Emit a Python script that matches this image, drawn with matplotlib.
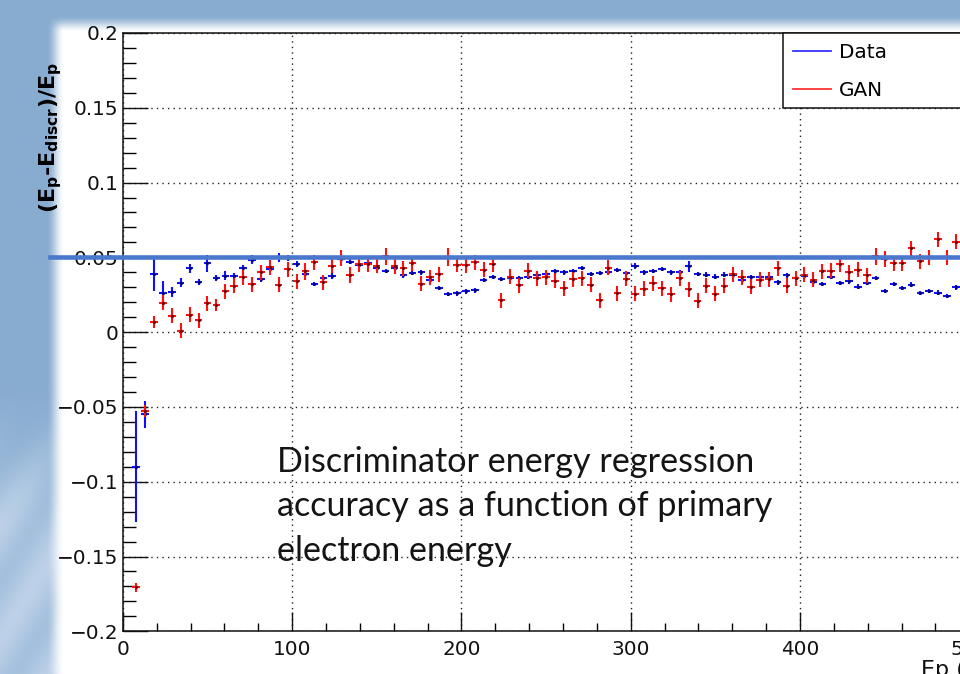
import numpy as np
import matplotlib
matplotlib.use('Agg')
import matplotlib.pyplot as plt
from matplotlib.lines import Line2D
from matplotlib.patches import Rectangle
import matplotlib.transforms as mtransforms
from matplotlib.ticker import MultipleLocator

# ---------------- data ----------------
N_BINS = 95
E_MAX = 500.0
bin_index = list(range(1, 94))

data_values = [
    -0.090, -0.055, 0.0388, 0.026, 0.027, 0.033, 0.0428, 0.0334, 0.046, 0.036,
    0.0377, 0.0377, 0.0428, 0.0484, 0.0357, 0.0421, 0.050, 0.0495, 0.0455, 0.039,
    0.0323, 0.0361, 0.0377, 0.0488, 0.0472, 0.045, 0.046, 0.0432, 0.041, 0.0432,
    0.0379, 0.0395, 0.040, 0.0346, 0.0294, 0.0256, 0.026, 0.0272, 0.0279, 0.035,
    0.0368, 0.0354, 0.036, 0.036, 0.0368, 0.0384, 0.039, 0.0406, 0.040, 0.0406,
    0.0428, 0.039, 0.0395, 0.040, 0.0417, 0.0395, 0.0444, 0.040, 0.041, 0.0421,
    0.040, 0.040, 0.0439, 0.039, 0.0384, 0.0372, 0.0384, 0.038, 0.035, 0.0366,
    0.0368, 0.0372, 0.0332, 0.0379, 0.0361, 0.0377, 0.0332, 0.0321, 0.0372, 0.0328,
    0.0339, 0.0305, 0.0328, 0.0361, 0.0276, 0.0321, 0.0294, 0.0317, 0.0261, 0.0276,
    0.0265, 0.0243, 0.0299]

data_errors = [
    0.037, 0.009, 0.011, 0.0085, 0.0035, 0.003, 0.003, 0.002, 0.0055, 0.002,
    0.003, 0.002, 0.002, 0.003, 0.002, 0.002, 0.003, 0.002, 0.002, 0.002,
    0.0015, 0.0015, 0.002, 0.002, 0.0015, 0.0015, 0.0015, 0.0015, 0.0015, 0.0015,
    0.0015, 0.0015, 0.0015, 0.0015, 0.0015, 0.0015, 0.0015, 0.0015, 0.0015, 0.0015,
    0.0015, 0.0015, 0.0015, 0.0015, 0.0015, 0.0015, 0.0015, 0.0015, 0.0015, 0.0015,
    0.0015, 0.0015, 0.0015, 0.0015, 0.0015, 0.0015, 0.002, 0.0015, 0.0015, 0.0015,
    0.0015, 0.0015, 0.004, 0.0015, 0.0015, 0.0015, 0.0015, 0.0015, 0.0015, 0.0015,
    0.0015, 0.0015, 0.0015, 0.0015, 0.0015, 0.0015, 0.0015, 0.0015, 0.0015, 0.0015,
    0.0015, 0.0015, 0.0015, 0.0015, 0.0015, 0.0015, 0.0015, 0.0015, 0.0015, 0.0015,
    0.0015, 0.0015, 0.0015]

gan_values = [
    -0.1706, -0.053, 0.0067, 0.0198, 0.011, 0.001, 0.0116, 0.0078, 0.0194, 0.0183,
    0.0272, 0.031, 0.0366, 0.0321, 0.040, 0.0435, 0.0317, 0.0421, 0.0339, 0.0406,
    0.0468, 0.0332, 0.0443, 0.0495, 0.0383, 0.0455, 0.0455, 0.0443, 0.0506, 0.0439,
    0.0428, 0.0461, 0.0323, 0.0368, 0.0388, 0.0502, 0.045, 0.0446, 0.0466, 0.0417,
    0.0455, 0.0212, 0.0372, 0.0312, 0.041, 0.0361, 0.0366, 0.0343, 0.0294, 0.0355,
    0.0361, 0.0317, 0.0212, 0.0432, 0.0261, 0.0357, 0.0256, 0.029, 0.0328, 0.0294,
    0.0254, 0.0361, 0.0288, 0.021, 0.031, 0.0256, 0.031, 0.0388, 0.0366, 0.0305,
    0.035, 0.0355, 0.0428, 0.031, 0.0361, 0.0383, 0.035, 0.0406, 0.041, 0.0455,
    0.040, 0.0417, 0.0379, 0.0506, 0.0488, 0.0461, 0.0461, 0.0562, 0.0473, 0.0502,
    0.0622, 0.0502, 0.0606]

gan_errors = [
    0.003, 0.004, 0.004, 0.005, 0.005, 0.005, 0.005, 0.005, 0.005, 0.004,
    0.005, 0.005, 0.005, 0.005, 0.005, 0.005, 0.005, 0.005, 0.005, 0.0055,
    0.005, 0.005, 0.005, 0.0055, 0.0055, 0.005, 0.005, 0.005, 0.0055, 0.005,
    0.005, 0.005, 0.005, 0.005, 0.005, 0.006, 0.005, 0.005, 0.005, 0.005,
    0.005, 0.005, 0.005, 0.005, 0.005, 0.005, 0.005, 0.005, 0.005, 0.005,
    0.005, 0.005, 0.005, 0.005, 0.005, 0.005, 0.005, 0.005, 0.005, 0.005,
    0.005, 0.005, 0.005, 0.005, 0.005, 0.005, 0.005, 0.005, 0.005, 0.005,
    0.005, 0.005, 0.005, 0.005, 0.005, 0.005, 0.005, 0.005, 0.005, 0.005,
    0.005, 0.005, 0.005, 0.0055, 0.0055, 0.005, 0.005, 0.005, 0.005, 0.005,
    0.005, 0.005, 0.005]

y_ticks = [-0.2, -0.15, -0.1, -0.05, 0.0, 0.05, 0.1, 0.15, 0.2]
y_tick_labels = ['\u22120.2', '\u22120.15', '\u22120.1', '\u22120.05', '0',
                 '0.05', '0.1', '0.15', '0.2']
x_ticks = [0, 100, 200, 300, 400, 500]
x_tick_labels = ['0', '100', '200', '300', '400', '500']
legend_labels = ['Data', 'GAN']
reference_level = 0.05
annotation_lines = ['Discriminator energy regression',
                    'accuracy as a function of primary',
                    'electron energy']
y_title = r'$\mathbf{(E_{p}}$-$\mathbf{E_{discr})/E_{p}}$'
x_title = 'Ep (GeV)'

# ---------------- figure ----------------
W, H = 960, 674
fig = plt.figure(figsize=(W / 100, H / 100), dpi=100)
fig.patch.set_facecolor('#88abd0')

# slide background: blue frame fading into a white panel
yy, xx = np.mgrid[0:H, 0:W].astype(float)
def smooth(t):
    t = np.clip(t, 0, 1)
    return t * t * (3 - 2 * t)
mask = smooth((xx - 46) / 18.0) * smooth((yy - 15) / 17.0)
blue = np.array([0.535, 0.675, 0.818])
light = np.array([0.74, 0.82, 0.91])
haze = smooth((yy - 380) / 160.0) * (0.55 + 0.45 * np.sin(yy / 37.0 + xx / 23.0) ** 2)
frame = blue[None, None, :] * (1 - haze[..., None]) + light[None, None, :] * haze[..., None]
img = frame * (1 - mask[..., None]) + mask[..., None]
bg = fig.add_axes([0, 0, 1, 1], zorder=-10)
bg.imshow(img, aspect='auto', extent=(0, 1, 0, 1), interpolation='bilinear')
bg.axis('off')

# axes geometry (pixels)
x0_px, y_top_px, y_bot_px = 122.8, 33.0, 631.3
px_per_unit = 1.693
x_hi = 515.0
ax = fig.add_axes([x0_px / W, (H - y_bot_px) / H,
                   x_hi * px_per_unit / W, (y_bot_px - y_top_px) / H])
ax.set_facecolor('white')
ax.set_xlim(0, x_hi)
ax.set_ylim(-0.2, 0.2)

bw = E_MAX / N_BINS
centers = [(k + 0.5) * bw for k in bin_index]

ax.errorbar(centers, data_values, xerr=bw * 0.42, yerr=data_errors, fmt='none',
            ecolor='#1010ff', elinewidth=1.5, capsize=0, zorder=3)
ax.plot(centers, data_values, ls='none', marker='s', ms=1.0, color='#000060',
        zorder=3.5)
ax.errorbar(centers, gan_values, xerr=bw * 0.42, yerr=gan_errors, fmt='none',
            ecolor='#ff1010', elinewidth=1.5, capsize=0, zorder=4)
ax.plot(centers, gan_values, ls='none', marker='s', ms=1.0, color='#600000',
        zorder=4.5)

# ticks
ax.set_yticks(y_ticks)
ax.set_yticklabels(y_tick_labels)
ax.set_xticks(x_ticks)
ax.set_xticklabels(x_tick_labels)
ax.yaxis.set_minor_locator(MultipleLocator(0.01))
ax.xaxis.set_minor_locator(MultipleLocator(20))
for lab in ax.get_xticklabels() + ax.get_yticklabels():
    lab.set_fontfamily('DejaVu Sans')
ax.tick_params(axis='y', which='major', direction='in', length=18, width=1.0,
               labelsize=14.4, pad=3, colors='#111111')
ax.tick_params(axis='y', which='minor', direction='in', length=9.4, width=1.0)
ax.tick_params(axis='x', which='major', direction='in', length=14, width=1.0,
               labelsize=14.4, pad=6, colors='#111111')
ax.tick_params(axis='x', which='minor', direction='in', length=6, width=1.0)
for s in ax.spines.values():
    s.set_linewidth(1.1)
    s.set_color('#111111')

ax.grid(True, which='major', color='#222222', linestyle=(0, (1, 3)),
        linewidth=1.0)
ax.set_axisbelow(True)

# legend (frame drawn as a box running past the right edge of the picture)
legend_box = Rectangle((783 / W, 1 - 108 / H), 400 / W, 75 / H,
                       transform=fig.transFigure, facecolor='white',
                       edgecolor='#111111', linewidth=1.1, zorder=5,
                       clip_on=False)
ax.add_patch(legend_box)
handles = [Line2D([], [], color='#3333ff', lw=1.3),
           Line2D([], [], color='#ff3333', lw=1.3)]
leg = ax.legend(handles, legend_labels, loc='upper left',
                bbox_to_anchor=(783 / W, 1 - 33 / H),
                bbox_transform=fig.transFigure, frameon=False,
                borderaxespad=0, borderpad=0.48, labelspacing=0.95,
                handlelength=1.9, handletextpad=0.4,
                prop={'family': 'DejaVu Sans', 'size': 14.4})
leg.set_zorder(6)

# axis titles
fig.text(51 / W, 1 - 62 / H, y_title, rotation=90, ha='center', va='top',
         fontsize=16, fontweight='bold', family='DejaVu Sans')
fig.text(921 / W, 1 - 660 / H, x_title, ha='left', va='top', fontsize=16,
         family='DejaVu Sans', color='#111111')

# slide decoration: thick blue line at reference level
trans = mtransforms.blended_transform_factory(fig.transFigure, ax.transData)
ax.add_line(Line2D([50 / W, 1.0], [reference_level, reference_level],
                   transform=trans, color='#4a78cc', lw=3.3, clip_on=False,
                   zorder=7))

# slide annotation
for i, line in enumerate(annotation_lines):
    fig.text(277 / W, 1 - (472 + 44.5 * i) / H, line, ha='left',
             va='baseline', fontsize=24.6, family='Lato', color='#141414')

fig.savefig('out.png', dpi=100)
